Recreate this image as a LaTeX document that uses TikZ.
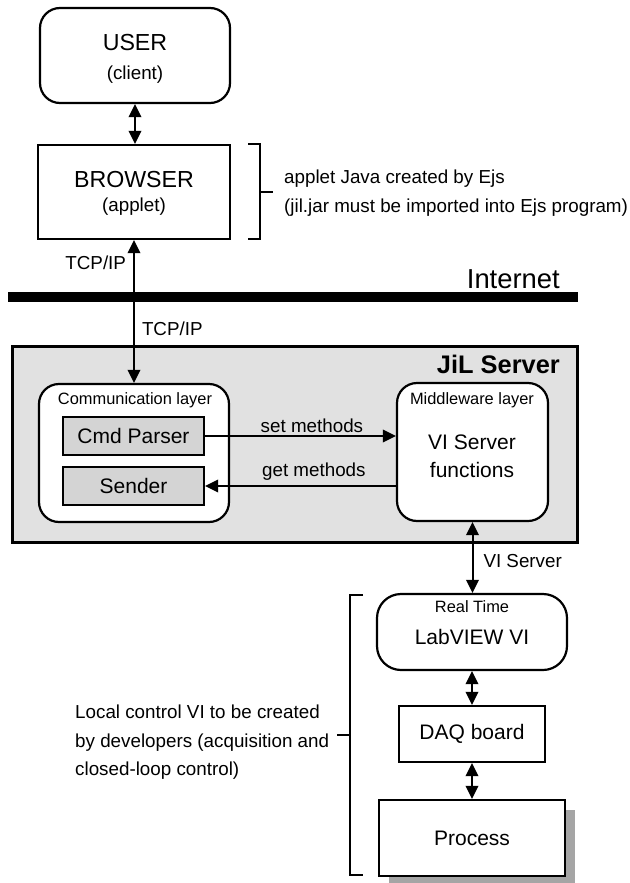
\documentclass[tikz,border=0pt]{standalone}
\usepackage{fontspec}
\setmainfont{Liberation Sans}
\usepackage{tikz}
\usetikzlibrary{arrows.meta,positioning,calc,shadows}
\definecolor{srvgray}{RGB}{225,225,225}
\definecolor{partgray}{RGB}{212,212,212}
\definecolor{shadegray}{RGB}{165,165,165}
\newcommand{\layerfnt}{\fontsize{16.4}{19}\selectfont}
\newcommand{\txtfnt}{\fontsize{18.8}{28.5}\selectfont}
\newcommand{\boxfnt}{\fontsize{21}{28}\selectfont}
\newcommand{\bigfnt}{\fontsize{23.2}{28}\selectfont}
\newcommand{\inetfnt}{\fontsize{27.4}{32}\selectfont}
\newcommand{\srvfnt}{\fontsize{25.4}{30}\selectfont\bfseries}

\begin{document}
\begin{tikzpicture}[x=1pt, y=-1pt,
    rbox/.style={rectangle, draw=black, rounded corners=20pt, line width=2.2pt, fill=white, inner sep=0pt},
    sbox/.style={rectangle, draw=black, line width=2.2pt, fill=white, inner sep=0pt, font=\boxfnt},
    arr/.style={-{Triangle[length=13pt, width=12.5pt]}, line width=2pt},
    darr/.style={{Triangle[length=13pt, width=12.5pt]}-{Triangle[length=13pt, width=12.5pt]}, line width=2pt},
    txt/.style={font=\txtfnt, inner sep=2pt},
    brace/.style={line width=2pt}
]
\useasboundingbox (0,0) rectangle (629,883);

% client side
\node[rbox, minimum width=190pt, minimum height=95pt] (user) at (135,55.5) {};
\node[font=\bigfnt] (usert) at (135,43) {USER};
\node[txt] (userc) at (135,75) {(client)};
\node[sbox, minimum width=192pt, minimum height=94pt] (browser) at (134,192) {};
\node[font=\bigfnt] (browsert) at (134,180) {BROWSER};
\node[txt] (browserc) at (134,207) {(applet)};
\draw[darr] (user.south) -- (user.south |- browser.north);

\draw[brace] (248,144) -- (260,144) -- (260,239) -- (248,239);
\draw[brace] (260,192) -- (273,192);
\node[txt, anchor=west, align=left, inner sep=3pt] (appnote) at (281,193)
    {applet Java created by Ejs\\(jil.jar must be imported into Ejs program)};

% internet
\node[fill=black, inner sep=0pt, minimum width=570pt, minimum height=10pt] (inet) at (293,297) {};
\node[font=\inetfnt, anchor=base east, inner sep=2pt] (inett) at (562,288) {Internet};

% JiL server
\node[rectangle, draw=black, line width=3pt, fill=srvgray, minimum width=565pt,
    minimum height=196pt, inner sep=0pt] (server) at (294.5,444) {};
\node[font=\srvfnt, anchor=east, inner sep=2pt] (servert) at (562,364) {JiL Server};

\node[rbox, minimum width=190pt, minimum height=138pt] (comm) at (134,453) {};
\node[font=\layerfnt, inner sep=0pt] (commt) at (135,400) {Communication layer};
\node[sbox, fill=partgray, minimum width=141pt, minimum height=38pt] (cmdp) at (133.5,436) {Cmd Parser};
\node[sbox, fill=partgray, minimum width=141pt, minimum height=38pt] (sender) at (133.5,486) {Sender};

\node[rbox, minimum width=151pt, minimum height=138pt] (mid) at (472.5,452) {};
\node[font=\layerfnt, inner sep=0pt] (midt) at (472,400) {Middleware layer};
\node[font=\boxfnt, align=center] (midf) at (472,456) {VI Server\\functions};

\draw[arr] (inet.north -| browser.south) -- node[txt, left=5pt, pos=0.57] {TCP/IP} (browser.south);
\draw[arr] (inet.south -| comm.north) -- node[txt, right=5pt, pos=0.33] {TCP/IP} (comm.north);
\draw[arr] (cmdp.east) -- node[txt, above=0pt, pos=0.56] {set methods} (cmdp.east -| mid.west);
\draw[arr] (sender.east -| mid.west) -- node[txt, above=3pt, pos=0.43] {get methods} (sender.east);

% local side
\node[rbox, rounded corners=24pt, minimum width=190pt, minimum height=76pt] (lv) at (472,632) {};
\node[font=\layerfnt, inner sep=0pt] (lvt) at (472,607) {Real Time};
\node[font=\boxfnt] (lvn) at (472,637) {LabVIEW VI};
\node[sbox, minimum width=146pt, minimum height=56pt] (daq) at (472,734) {DAQ board};
\node[sbox, minimum width=186pt, minimum height=76pt,
    drop shadow={shadow xshift=10pt, shadow yshift=-10pt, fill=shadegray, opacity=1}] (proc) at (472,838) {Process};

\draw[darr] (mid.south) -- node[txt, right=8pt, pos=0.55] {VI Server} (mid.south |- lv.north);
\draw[darr] (lv.south) -- (daq.north);
\draw[darr] (daq.south) -- (proc.north);

\draw[brace] (363,595) -- (350,595) -- (350,875) -- (363,875);
\draw[brace] (350,735) -- (337,735);
\node[txt, anchor=west, align=left, inner sep=3pt] (localnote) at (72,742.5)
    {Local control VI to be created\\by developers (acquisition and\\closed-loop control)};
\end{tikzpicture}
\end{document}
